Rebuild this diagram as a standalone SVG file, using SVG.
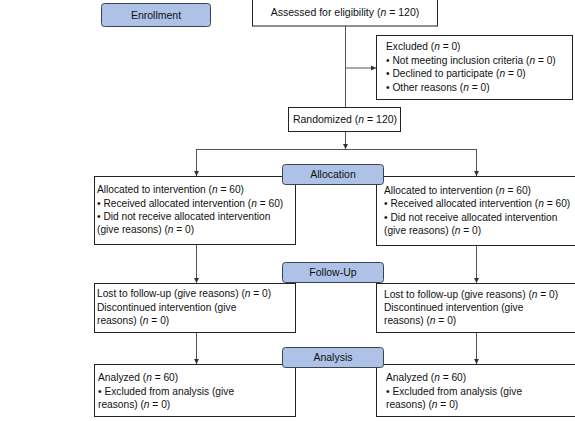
<svg xmlns="http://www.w3.org/2000/svg" width="575" height="421" viewBox="0 0 575 421">
<defs>
<marker id="ah" markerWidth="6" markerHeight="6" refX="5" refY="3" orient="auto" markerUnits="userSpaceOnUse">
<path d="M0,0.5 L5,3 L0,5.5 Z" fill="#333"/>
</marker>
<style>
.box{fill:#fff;stroke:#222;stroke-width:1}
.stage{fill:#adc2e6;stroke:#3c4350;stroke-width:1}
.t{font-family:"Liberation Sans",Arial,sans-serif;font-size:10.2px;fill:#111}
.s{font-size:10.5px}
.c{text-anchor:middle}
.ln{fill:none;stroke:#555;stroke-width:1}
</style>
</defs>
<rect width="575" height="421" fill="#fff"/>
<g id="connectors">
<path class="ln" d="M345.5,26 V107"/>
<path class="ln" d="M345.5,68 H376" marker-end="url(#ah)"/>
<path class="ln" d="M345.5,131 V149" marker-end="url(#ah)"/>
<path class="ln" d="M196.5,149.5 H476.5"/>
<path class="ln" d="M196.5,149 V176" marker-end="url(#ah)"/>
<path class="ln" d="M476.5,149 V176" marker-end="url(#ah)"/>
<path class="ln" d="M196.5,244 V283" marker-end="url(#ah)"/>
<path class="ln" d="M476.5,245 V283" marker-end="url(#ah)"/>
<path class="ln" d="M196.5,333 V364" marker-end="url(#ah)"/>
<path class="ln" d="M476.5,333 V364" marker-end="url(#ah)"/>
</g>
<g id="enrollment">
<rect class="stage" x="101.5" y="3.5" width="109" height="23" rx="3"/>
<text class="t s c" x="156" y="19">Enrollment</text>
</g>
<g id="assessed">
<rect class="box" x="252.5" y="-2" width="185" height="28"/>
<text class="t s c" x="345" y="16">Assessed for eligibility (<tspan font-style="italic">n</tspan> = 120)</text>
</g>
<g id="excluded">
<rect class="box" x="376.5" y="35.5" width="196" height="64"/>
<text class="t" x="386" y="50">Excluded (<tspan font-style="italic">n</tspan> = 0)</text>
<text class="t" x="386" y="64">• Not meeting inclusion criteria (<tspan font-style="italic">n</tspan> = 0)</text>
<text class="t" x="386" y="77">• Declined to participate (<tspan font-style="italic">n</tspan> = 0)</text>
<text class="t" x="386" y="91">• Other reasons (<tspan font-style="italic">n</tspan> = 0)</text>
</g>
<g id="randomized">
<rect class="box" x="288.5" y="107.5" width="112" height="24"/>
<text class="t s c" x="345" y="123">Randomized (<tspan font-style="italic">n</tspan> = 120)</text>
</g>
<g id="alloc-left">
<rect class="box" x="94.5" y="176.5" width="201" height="68"/>
<text class="t" x="97" y="193">Allocated to intervention (<tspan font-style="italic">n</tspan> = 60)</text>
<text class="t" x="97" y="207">• Received allocated intervention (<tspan font-style="italic">n</tspan> = 60)</text>
<text class="t" x="97" y="220">• Did not receive allocated intervention</text>
<text class="t" x="97" y="233"> (give reasons) (<tspan font-style="italic">n</tspan> = 0)</text>
</g>
<g id="alloc-right">
<rect class="box" x="376.5" y="176.5" width="205" height="69"/>
<text class="t" x="384" y="194">Allocated to intervention (<tspan font-style="italic">n</tspan> = 60)</text>
<text class="t" x="384" y="207">• Received allocated intervention (<tspan font-style="italic">n</tspan> = 60)</text>
<text class="t" x="384" y="221">• Did not receive allocated intervention</text>
<text class="t" x="384" y="234"> (give reasons) (<tspan font-style="italic">n</tspan> = 0)</text>
</g>
<g id="allocation">
<rect class="stage" x="282.5" y="164.5" width="101" height="20" rx="3"/>
<text class="t s c" x="333" y="178">Allocation</text>
</g>
<g id="follow-left">
<rect class="box" x="94.5" y="283.5" width="201" height="49"/>
<text class="t" x="97" y="297">Lost to follow-up (give reasons) (<tspan font-style="italic">n</tspan> = 0)</text>
<text class="t" x="97" y="311">Discontinued intervention (give</text>
<text class="t" x="97" y="324">reasons) (<tspan font-style="italic">n</tspan> = 0)</text>
</g>
<g id="follow-right">
<rect class="box" x="376.5" y="283.5" width="205" height="49"/>
<text class="t" x="384" y="298">Lost to follow-up (give reasons) (<tspan font-style="italic">n</tspan> = 0)</text>
<text class="t" x="384" y="311">Discontinued intervention (give</text>
<text class="t" x="384" y="324">reasons) (<tspan font-style="italic">n</tspan> = 0)</text>
</g>
<g id="followup">
<rect class="stage" x="282.5" y="262.5" width="101" height="20" rx="3"/>
<text class="t s c" x="333" y="276">Follow-Up</text>
</g>
<g id="analysis-left">
<rect class="box" x="94.5" y="364.5" width="201" height="52"/>
<text class="t" x="98" y="381">Analyzed (<tspan font-style="italic">n</tspan> = 60)</text>
<text class="t" x="98" y="395">• Excluded from analysis (give</text>
<text class="t" x="98" y="408"> reasons) (<tspan font-style="italic">n</tspan> = 0)</text>
</g>
<g id="analysis-right">
<rect class="box" x="376.5" y="364.5" width="205" height="52"/>
<text class="t" x="386" y="381">Analyzed (<tspan font-style="italic">n</tspan> = 60)</text>
<text class="t" x="386" y="395">• Excluded from analysis (give</text>
<text class="t" x="386" y="408"> reasons) (<tspan font-style="italic">n</tspan> = 0)</text>
</g>
<g id="analysis">
<rect class="stage" x="282.5" y="347.5" width="101" height="20" rx="3"/>
<text class="t s c" x="333" y="361">Analysis</text>
</g>
</svg>
